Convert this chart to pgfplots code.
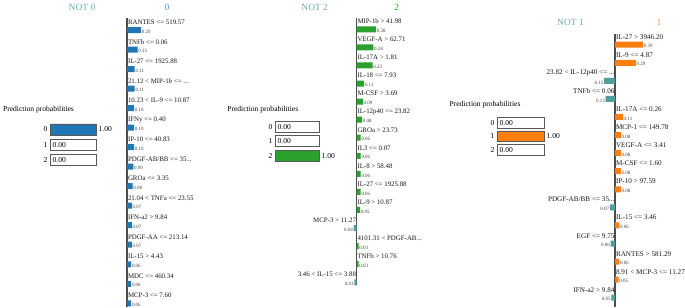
\documentclass[border=0pt]{standalone}
\usepackage{fontspec}
\setmainfont{Liberation Serif}
\usepackage{pgfplots}
\pgfplotsset{compat=1.18}
\definecolor{cblue}{HTML}{1F77B4}
\definecolor{cgreen}{HTML}{2CA02C}
\definecolor{corange}{HTML}{FF7F0E}
\definecolor{cteal}{HTML}{4F9E9E}
\definecolor{tteal}{HTML}{6AAEAA}
\newcommand\namefont{\fontsize{6.9}{8}\selectfont}
\newcommand\namefontb{\fontsize{7.2}{8}\selectfont}
\newcommand\valfont{\fontsize{5}{5.5}\selectfont}
\newcommand\probfont{\fontsize{7.6}{9}\selectfont}
\newcommand\titlefont{\fontsize{9.5}{11}\selectfont}
\pgfplotsset{
  /pgf/number format/assume math mode=true,
  feat/.style={scale only axis, clip=false, y dir=reverse,
    axis x line=none, axis y line=center, ytick=\empty, xtick=\empty,
    axis line style={-, line width=1.1bp, draw=black!70},
    xmin=-1, xmax=1, ymin=-0.6},
  posbar/.style={xbar, bar shift=0pt, bar width=6bp, draw=none, fill=#1,
    point meta=x,
    nodes near coords={\pgfmathprintnumber[fixed,fixed zerofill,precision=2,assume math mode=true]{\pgfplotspointmeta}},
    nodes near coords style={anchor=west, inner sep=0.6bp, yshift=-1.6bp, font=\valfont, text=black!75}},
  negbar/.style={xbar, bar shift=0pt, bar width=6bp, draw=none, fill=cteal,
    point meta=x,
    nodes near coords={\pgfkeys{/pgf/fpu}\pgfmathparse{abs(\pgfplotspointmeta)}\pgfmathprintnumber[fixed,fixed zerofill,precision=2,assume math mode=true]{\pgfmathresult}},
    nodes near coords style={anchor=east, inner sep=0.6bp, yshift=-1.6bp, font=\valfont, text=black!75}},
  posname/.style={draw=none, mark=none, forget plot, point meta=explicit symbolic,
    nodes near coords, nodes near coords style={anchor=west, inner sep=0.8bp, yshift=7.8bp, font=#1, text=black!90}},
  negname/.style={draw=none, mark=none, forget plot, point meta=explicit symbolic,
    nodes near coords, nodes near coords style={anchor=east, inner sep=0.3bp, yshift=7.8bp, font=#1, text=black!90}},
  prob/.style={scale only axis, clip=false, xmin=0, xmax=1, ymin=-0.5, ymax=2.5,
    y dir=reverse, xtick=\empty, ytick={0,1,2}, axis line style={draw=none},
    major tick length=0pt, yticklabel style={font=\probfont, inner sep=2.5bp}},
  probbox/.style={xbar, bar shift=0pt, bar width=#1, fill=white, draw=black!65, line width=0.8bp},
  probval/.style 2 args={xbar, bar shift=0pt, bar width=#2, fill=#1, draw=black!65, line width=0.8bp,
    point meta=x,
    nodes near coords={\pgfmathprintnumber[fixed,fixed zerofill,precision=2,assume math mode=true]{\pgfplotspointmeta}},
    nodes near coords style={anchor=west, inner sep=2.2bp, font=\probfont, text=black}},
}
\begin{document}
\begin{tikzpicture}
\path[use as bounding box] (0bp,0bp) rectangle (685bp,308bp);

% ---------------- Panel 1 (class 0) ----------------
\node[font=\titlefont, text=tteal] at (82bp,301bp) {NOT 0};
\node[font=\titlefont, text=cblue!75] at (167bp,301bp) {0};
\node[font=\probfont] at (38.5bp,198bp) {Prediction probabilities};
\begin{axis}[prob, at={(50bp,186.15bp)}, anchor=north west, width=46bp, height=45.9bp]
\addplot[probbox=11bp] coordinates {(1,0) (1,1) (1,2)};
\addplot[probval={cblue}{11bp}] coordinates {(1,0) (0,1) (0,2)};
\end{axis}
\begin{axis}[feat, at={(57bp,289.7bp)}, anchor=north west, width=140bp, height=288.9bp, ymax=14.2]
\addplot[posbar=cblue] coordinates {
(0.20,0) (0.15,1) (0.11,2) (0.11,3) (0.10,4) (0.10,5) (0.10,6) (0.09,7)
(0.08,8) (0.07,9) (0.07,10) (0.07,11) (0.06,12) (0.06,13) (0.06,14)};
\addplot[posname=\namefont] coordinates {
(0,0) [RANTES <= 519.57]
(0,1) [TNFb <= 0.06]
(0,2) [IL-27 <= 1925.88]
(0,3) [21.12 < MIP-1b <= ...]
(0,4) [10.23 < IL-9 <= 10.87]
(0,5) [IFNy <= 0.40]
(0,6) [IP-10 <= 40.83]
(0,7) [PDGF-AB/BB <= 35...]
(0,8) [GROa <= 3.35]
(0,9) [21.04 < TNFa <= 23.55]
(0,10) [IFN-a2 > 9.84]
(0,11) [PDGF-AA <= 213.14]
(0,12) [IL-15 > 4.43]
(0,13) [MDC <= 460.34]
(0,14) [MCP-3 <= 7.60]};
\end{axis}

% ---------------- Panel 2 (class 2) ----------------
\node[font=\titlefont, text=tteal] at (314.7bp,301bp) {NOT 2};
\node[font=\titlefont, text=cgreen] at (396.7bp,301bp) {2};
\node[font=\probfont] at (262.8bp,198bp) {Prediction probabilities};
\begin{axis}[prob, at={(275bp,187.9bp)}, anchor=north west, width=44bp, height=42.6bp]
\addplot[probbox=11bp] coordinates {(1,0) (1,1) (1,2)};
\addplot[probval={cgreen}{11bp}] coordinates {(0,0) (0,1) (1,2)};
\end{axis}
\begin{axis}[feat, at={(286.5bp,289.54bp)}, anchor=north west, width=140bp, height=266.5bp, ymax=14.15]
\addplot[posbar=cgreen] coordinates {
(0.28,0) (0.24,1) (0.23,2) (0.11,3) (0.09,4) (0.08,5) (0.06,6) (0.06,7)
(0.06,8) (0.06,9) (0.05,10) (0.03,12) (0.03,13)};
\addplot[negbar] coordinates {(-0.04,11) (-0.03,14)};
\addplot[posname=\namefont] coordinates {
(0,0) [MIP-1b > 41.98]
(0,1) [VEGF-A > 62.71]
(0,2) [IL-17A > 1.81]
(0,3) [IL-18 <= 7.93]
(0,4) [M-CSF > 3.69]
(0,5) [IL-12p40 <= 23.82]
(0,6) [GROa > 23.73]
(0,7) [IL3 <= 0.07]
(0,8) [IL-8 > 58.48]
(0,9) [IL-27 <= 1925.88]
(0,10) [IL-9 > 10.87]
(0,12) [4101.31 < PDGF-AB...]
(0,13) [TNFb > 10.76]};
\addplot[negname=\namefont] coordinates {
(0,11) [MCP-3 > 11.27]
(0,14) [3.46 < IL-15 <= 3.88]};
\end{axis}

% ---------------- Panel 3 (class 1) ----------------
\node[font=\titlefont, text=tteal] at (570.5bp,286bp) {NOT 1};
\node[font=\titlefont, text=corange!80] at (659bp,286bp) {1};
\node[font=\probfont] at (485bp,203bp) {Prediction probabilities};
\begin{axis}[prob, at={(497bp,191.93bp)}, anchor=north west, width=47bp, height=40.35bp]
\addplot[probbox=10.5bp] coordinates {(1,0) (1,1) (1,2)};
\addplot[probval={corange}{10.5bp}] coordinates {(0,0) (1,1) (0,2)};
\end{axis}
\begin{axis}[feat, at={(543bp,274.14bp)}, anchor=north west, width=144bp, height=272.9bp, ymax=14.5]
\addplot[posbar=corange] coordinates {
(0.39,0) (0.29,1) (0.11,4) (0.08,5) (0.08,6) (0.08,7) (0.08,8)
(0.06,10) (0.06,12) (0.05,13)};
\addplot[negbar] coordinates {(-0.15,2) (-0.13,3) (-0.07,9) (-0.06,11) (-0.05,14)};
\addplot[posname=\namefontb] coordinates {
(0,0) [IL-27 > 3946.20]
(0,1) [IL-9 <= 4.87]
(0,4) [IL-17A <= 0.26]
(0,5) [MCP-1 <= 149.78]
(0,6) [VEGF-A <= 3.41]
(0,7) [M-CSF <= 1.60]
(0,8) [IP-10 > 97.59]
(0,10) [IL-15 <= 3.46]
(0,12) [RANTES > 581.29]
(0,13) [8.91 < MCP-3 <= 11.27]};
\addplot[negname=\namefontb] coordinates {
(0,2) [23.82 < IL-12p40 <= ...]
(0,3) [TNFb <= 0.06]
(0,9) [PDGF-AB/BB <= 35...]
(0,11) [EGF <= 9.75]
(0,14) [IFN-a2 > 9.84]};
\end{axis}
\end{tikzpicture}
\end{document}
